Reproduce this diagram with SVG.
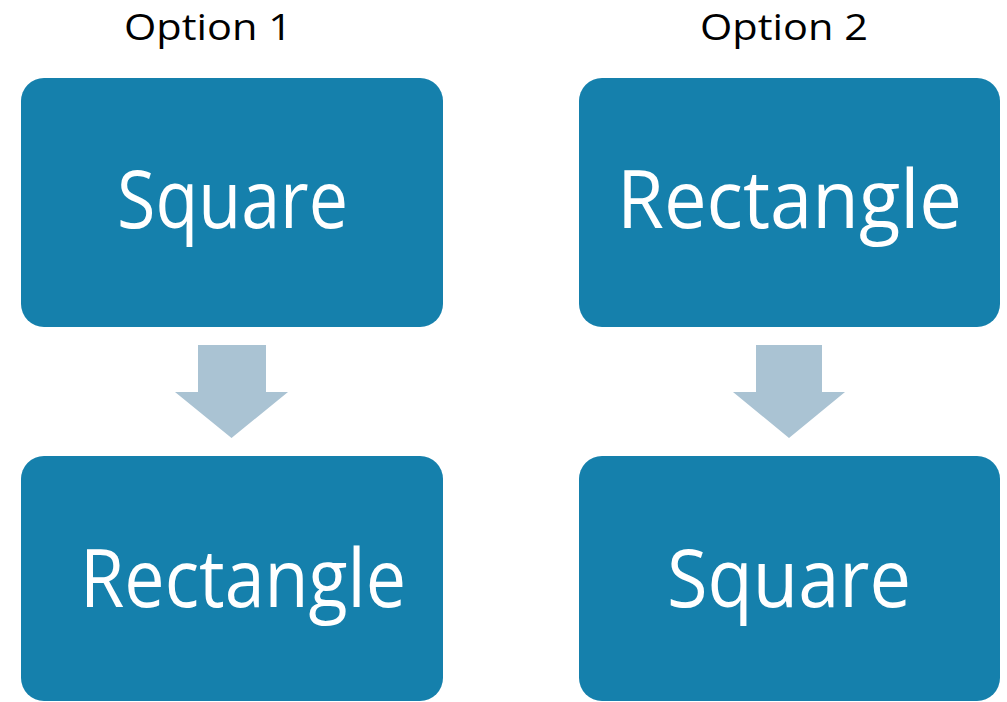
<svg xmlns="http://www.w3.org/2000/svg" width="1007" height="702" viewBox="0 0 1007 702">
  <style>
    .box { fill: #1580AC; }
    .arrow { fill: #AAC3D3; }
    .label { font-family: "Open Sans", "Liberation Sans", sans-serif; fill: #FFFFFF; font-size: 81px; text-anchor: middle; }
    .title { font-family: "Open Sans", "Liberation Sans", sans-serif; fill: #000000; font-size: 37px; text-anchor: middle; }
  </style>
  <rect width="1007" height="702" fill="#FFFFFF"/>

  <text class="title" x="208" y="40" textLength="168" lengthAdjust="spacingAndGlyphs">Option 1</text>
  <text class="title" x="784" y="40" textLength="168" lengthAdjust="spacingAndGlyphs">Option 2</text>

  <g id="opt1-top">
    <rect class="box" x="21" y="78" width="422" height="249" rx="23" ry="23"/>
    <text class="label" x="232.5" y="228" textLength="231" lengthAdjust="spacingAndGlyphs">Square</text>
  </g>
  <g id="opt1-bottom">
    <rect class="box" x="21" y="456" width="422" height="245" rx="23" ry="23"/>
    <text class="label" x="243" y="607" textLength="326" lengthAdjust="spacingAndGlyphs">Rectangle</text>
  </g>
  <g id="opt2-top">
    <rect class="box" x="579" y="78" width="421" height="249" rx="23" ry="23"/>
    <text class="label" x="789.5" y="228" textLength="345" lengthAdjust="spacingAndGlyphs">Rectangle</text>
  </g>
  <g id="opt2-bottom">
    <rect class="box" x="579" y="456" width="421" height="245" rx="23" ry="23"/>
    <text class="label" x="789" y="607" textLength="244" lengthAdjust="spacingAndGlyphs">Square</text>
  </g>

  <g id="connectors">
    <polygon class="arrow" points="198,345 266,345 266,392 288,392 231.5,438 175,392 198,392"/>
    <polygon class="arrow" points="756,345 822,345 822,392 845,392 789,438 733,392 756,392"/>
  </g>
</svg>
